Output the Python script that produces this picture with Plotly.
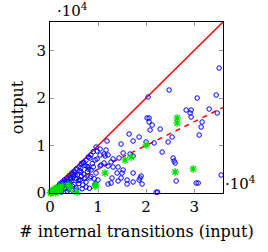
import plotly.graph_objects as go

# Blue points: (# internal transitions input, output)
blue_x = [35200, 24790, 20410, 30620, 34580, 33120, 28330, 29370, 29160, 29370, 34790,
          20200, 20620, 20620, 21250, 31660, 20830, 22910, 31450, 18540, 20000, 21660,
          24580, 25410, 31040, 23330, 25620, 25830, 26040, 26250, 30410, 30830, 35620,
          18540, 18960, 19160, 22100, 22400,
          16460, 17290, 14790, 16660, 15210, 14370, 17290, 11660, 11250, 12080, 11250,
          12080, 12710, 13120, 14160, 15210, 15000, 16040, 17290, 18750, 12910, 12710,
          13960, 14790, 17290,
          11870, 9790, 10420, 11460, 13120, 14160, 12080, 16040, 9790, 10420,
          9580, 10420, 9370, 8330, 7920, 6870, 6460, 8540, 9580, 10000, 8330, 7290, 6250,
          5210, 4370, 3750, 3330, 9370, 7500, 10620, 5420, 4580,
          2000, 2500, 3000, 3500, 4000, 4500, 5000, 5500, 6000, 6500, 7000, 7500, 8000, 8500, 9000,
          1500, 2000, 2500, 3000, 3500, 4000, 4500, 5000, 5500, 6000, 6500, 7000, 7500, 8000,
          8500, 9000, 2200, 2800, 3200, 3700, 4200, 4700, 5200, 5700, 6200, 6800, 7300, 7800,
          8800, 9200, 1200, 1800, 1000, 800, 600, 400, 1300, 2400, 3600, 5500, 6700, 8200, 9500,
          2600, 3300, 4300, 4900, 5900, 6400, 7100, 7700, 1600, 2900, 3900, 4800]
blue_y = [26300, 21680, 20210, 20000, 20630, 17680, 17470, 17470, 16840, 16000, 16840,
          15790, 15790, 14950, 14310, 14950, 13260, 13470, 13890, 11790, 10740, 10530,
          10740, 11790, 12210, 8630, 7370, 6740, 6320, 2530, 2100, 2100, 3790,
          2740, 3580, 1890, 150, 200,
          12420, 10950, 10310, 8210, 8420, 7370, 7790, 9050, 8210, 8000, 6320,
          5680, 6530, 5470, 5470, 4840, 4210, 2740, 4210, 3160, 3160, 2100,
          4210, 3160, 2320,
          10950, 8840, 9260, 7790, 7160, 2530, 1890, 1890, 7160, 5680,
          9680, 8000, 6950, 7370, 5470, 6320, 4420, 4840, 4210, 2740, 3160, 3160, 2740,
          3790, 3160, 2320, 1680, 1680, 1260, 5890, 1050, 630,
          1900, 2300, 2800, 3200, 3700, 4200, 4600, 5100, 5500, 6200, 6500, 6900, 7600, 8000, 8700,
          800, 1200, 600, 1500, 2000, 1000, 2500, 1800, 3000, 2000, 3500, 4000, 2300, 5000,
          3500, 5500, 1700, 2200, 900, 2700, 3300, 1400, 4200, 3800, 4700, 1700, 5800, 4500,
          6200, 3000, 1000, 1500, 500, 700, 400, 300, 300, 200, 400, 600, 900, 1000, 2000,
          1300, 2500, 2900, 3400, 2600, 5200, 3000, 5600, 1100, 1900, 800, 3900]

# Green points
green_x = [26450, 26450, 20000, 15620, 16870, 11460, 26040, 29790, 9580, 3750, 4170, 5620,
           9370, 300, 500, 800, 1000, 1200, 1500, 200, 600, 1800, 2200, 100, 400, 900, 1300,
           2500, 1600, 700, 1100, 2000]
green_y = [15790, 14740, 10100, 6950, 7580, 4210, 4420, 5050, 1680, 1680, 1050, 200,
           1470, 200, 400, 300, 700, 100, 500, 100, 500, 1200, 600, 50, 300, 800, 1000,
           1500, 200, 150, 400, 900]

# Reference lines
ref_x = [0, 36000]
ref_y_equal = [0, 36000]
ref_y_half = [0, 18000]

tick_vals = [0, 10000, 20000, 30000]
tick_text = ["0", "1", "2", "3"]

font_family = "DejaVu Serif"
title_size = 16
tick_size = 15

fig = go.Figure()
fig.add_trace(go.Scatter(x=ref_x, y=ref_y_equal, mode="lines",
                         line=dict(color="#ff0000", width=1.5), showlegend=False))
fig.add_trace(go.Scatter(x=ref_x, y=ref_y_half, mode="lines",
                         line=dict(color="#ff0000", width=1.5, dash="5px,5px"), showlegend=False))
fig.add_trace(go.Scatter(x=blue_x, y=blue_y, mode="markers", cliponaxis=False,
                         marker=dict(symbol="circle-open", size=4.5, color="#0000ff",
                                     line=dict(width=1, color="#0000ff")),
                         showlegend=False))
fig.add_trace(go.Scatter(x=green_x, y=green_y, mode="markers", cliponaxis=False,
                         marker=dict(symbol="asterisk-open", size=6.5, color="#00dd00",
                                     line=dict(width=1.2, color="#00dd00")),
                         showlegend=False))

axis_common = dict(range=[0, 36000], tickvals=tick_vals, ticktext=tick_text,
                   ticks="inside", ticklen=4, tickcolor="#999999", tickwidth=1,
                   showline=True, linecolor="#000000", linewidth=1, mirror="ticks",
                   showgrid=False, zeroline=False,
                   tickfont=dict(family=font_family, size=tick_size, color="#000000"))

fig.update_layout(
    width=268, height=252,
    margin=dict(l=50, r=45, t=22, b=59),
    paper_bgcolor="white", plot_bgcolor="white",
    xaxis=dict(**axis_common,
               title=dict(text="# internal transitions (input)", standoff=10,
                          font=dict(family=font_family, size=title_size, color="#000000"))),
    yaxis=dict(**axis_common,
               title=dict(text="output", standoff=8,
                          font=dict(family=font_family, size=title_size, color="#000000"))),
    annotations=[
        dict(text="·10<sup>4</sup>", x=0, y=1, xref="paper", yref="paper",
             xanchor="left", yanchor="bottom", showarrow=False, xshift=5, yshift=0,
             font=dict(family=font_family, size=tick_size, color="#000000")),
        dict(text="·10<sup>4</sup>", x=1, y=0, xref="paper", yref="paper",
             xanchor="left", yanchor="bottom", showarrow=False, xshift=0, yshift=-2,
             font=dict(family=font_family, size=tick_size, color="#000000")),
    ],
)

fig.write_html("out.html")
